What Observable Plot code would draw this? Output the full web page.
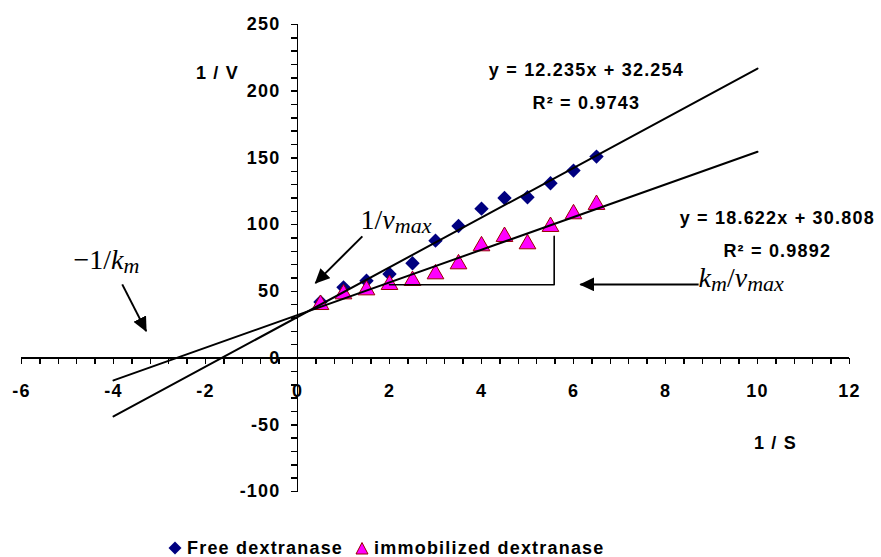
<!DOCTYPE html>
<html><head><meta charset="utf-8">
<script src="https://cdn.jsdelivr.net/npm/d3@7"></script>
<script src="https://cdn.jsdelivr.net/npm/@observablehq/plot@0.6"></script>
<style>
body{margin:0;background:#fff;}
#wrap{position:relative;width:881px;height:557px;overflow:hidden;}
#legend{position:absolute;left:168px;top:538px;font:bold 18px "Liberation Sans",Arial,sans-serif;letter-spacing:1.2px;line-height:20px;display:flex;align-items:center;white-space:nowrap;color:#000;}
#legend .item{display:flex;align-items:center;margin-right:12px;}
#legend svg{margin-right:5px;}
</style></head><body>
<div id="wrap"><div id="chart"></div><div id="legend"></div></div>
<script>
// ---- data ----
const invS = [0.5, 1, 1.5, 2, 2.5, 3, 3.5, 4, 4.5, 5, 5.5, 6, 6.5];
const freeInvV = [42, 53, 58, 63, 71, 88, 99, 112, 120, 120.5, 131, 140.5, 151];
const immInvV = [40, 48, 51, 55, 58, 63, 70.5, 84, 91, 85.5, 98.5, 108, 115];
const fitX = [-4, 10];
const freeFitY = [-43.7, 217.0];
const immFitY = [-16.7, 154.6];
const seriesNames = ["Free dextranase", "immobilized dextranase"];
const seriesColors = ["#000080", "#FF00FF"];
const xMajorTicks = [-6, -4, -2, 0, 2, 4, 6, 8, 10, 12];
const yMajorTicks = [-100, -50, 0, 50, 100, 150, 200, 250];
const xMinorTicks = d3.range(0, 46).map(i => -6 + i * 0.4);
const yMinorTicks = d3.range(0, 36).map(i => -100 + i * 10);
const eqFree = "y = 12.235x + 32.254\nR² = 0.9743";
const eqImm = "y = 18.622x + 30.808\nR² = 0.9892";
const axisTitleY = "1 / V";
const axisTitleX = "1 / S";

// annotations: rich-text segments (n normal, i italic, s italic subscript)
const annotations = [
  {key: "ann1", x: 1.37, y: 97, segs: [["1/", "n"], ["v", "i"], ["max", "s"]]},
  {key: "ann2", x: -4.87, y: 67, segs: [["\u22121/", "n"], ["k", "i"], ["m", "s"]]},
  {key: "ann3", x: 8.72, y: 53, segs: [["k", "i"], ["m", "s"], ["/", "n"], ["v", "i"], ["max", "s"]]}
];
const arrows = [
  {x1: 1.41, y1: 91.2, x2: 0.39, y2: 56.2},
  {x1: -3.81, y1: 55.2, x2: -3.29, y2: 20.2},
  {x1: 8.72, y1: 55.2, x2: 6.15, y2: 55.2}
];
const bracketX = [5.58, 5.58, 2.0];
const bracketY = [91.2, 55, 55];

// ---- layout ----
const W = 881, H = 515, mL = 21, mR = 32, mT = 24, mB = 24;
const xDomain = [-6, 12], yDomain = [-100, 250];
const pxPerX = (W - mL - mR) / (xDomain[1] - xDomain[0]);
const pxPerY = (H - mT - mB) / (yDomain[1] - yDomain[0]);
const x0px = mL + (0 - xDomain[0]) * pxPerX;
const y0px = mT + (yDomain[1] - 0) * pxPerY;
const dyAxis = y0px - (H - mB);
const dxAxis = x0px - mL;
const xTickLen = 6 / pxPerY;   // 6 px downward, in y units
const yTickLen = 7 / pxPerX;   // 7 px leftward, in x units

const freeData = invS.map((s, i) => ({x: s, y: freeInvV[i]}));
const immData = invS.map((s, i) => ({x: s, y: immInvV[i]}));
const freeFit = fitX.map((x, i) => ({x, y: freeFitY[i]}));
const immFit = fitX.map((x, i) => ({x, y: immFitY[i]}));
const bracket = bracketX.map((x, i) => ({x, y: bracketY[i]}));
const xTickData = xMinorTicks.map(v => ({v}));
const yTickData = yMinorTicks.map(v => ({v}));

const sans = "'Liberation Sans', Arial, sans-serif";
const fmt = d => String(d);

const chart = Plot.plot({
  width: W, height: H,
  marginLeft: mL, marginRight: mR, marginTop: mT, marginBottom: mB,
  x: {domain: xDomain, label: null},
  y: {domain: yDomain, label: null},
  style: {fontFamily: sans, fontSize: "18px", fontWeight: "bold", color: "#000", background: "#fff", overflow: "visible"},
  marks: [
    Plot.ruleY([0], {stroke: "#000", strokeWidth: 1.5, shapeRendering: "crispEdges"}),
    Plot.ruleX([0], {stroke: "#000", strokeWidth: 1.5, shapeRendering: "crispEdges"}),
    Plot.link(xTickData, {x1: d => d.v, x2: d => d.v, y1: d => 0, y2: d => -xTickLen, stroke: "#000", strokeWidth: 1.5, shapeRendering: "crispEdges"}),
    Plot.link(yTickData, {x1: d => -yTickLen, x2: d => 0, y1: d => d.v, y2: d => d.v, stroke: "#000", strokeWidth: 1.5, shapeRendering: "crispEdges"}),
    Plot.axisX(xMajorTicks, {anchor: "bottom", tickSize: 0, tickPadding: 26, tickFormat: fmt, label: null, dy: dyAxis, fontWeight: "bold", fontSize: 18, fill: "#000"}),
    Plot.axisY(yMajorTicks, {anchor: "left", tickSize: 0, tickPadding: 17, tickFormat: fmt, label: null, dx: dxAxis, fontWeight: "bold", fontSize: 18, fill: "#000"}),
    Plot.dot(freeData, {x: "x", y: "y", symbol: "diamond2", r: 6.5, fill: seriesColors[0], stroke: "none"}),
    Plot.dot(immData, {x: "x", y: "y", symbol: "triangle", r: 6.2, fill: seriesColors[1], stroke: "#990000", strokeWidth: 1}),
    Plot.line(freeFit, {x: "x", y: "y", stroke: "#000", strokeWidth: 2}),
    Plot.line(immFit, {x: "x", y: "y", stroke: "#000", strokeWidth: 2}),
    Plot.line(bracket, {x: "x", y: "y", stroke: "#000", strokeWidth: 1.6}),
    Plot.link(arrows, {x1: "x1", y1: "y1", x2: "x2", y2: "y2", stroke: "#000", strokeWidth: 2, markerEnd: "arrow"}),
    Plot.text([eqFree], {x: 6.28, y: 207, text: d => d, fontSize: 18, lineHeight: 1.83, fill: "#000", textAnchor: "middle"}),
    Plot.text([eqImm], {x: 10.43, y: 95.7, text: d => d, fontSize: 18, lineHeight: 1.83, fill: "#000", textAnchor: "middle"}),
    Plot.text([axisTitleY], {x: -1.74, y: 213.5, text: d => d, fontSize: 18, fill: "#000"}),
    Plot.text([axisTitleX], {x: 10.39, y: -63.5, text: d => d, fontSize: 18, fill: "#000"}),
    Plot.text(annotations, {x: "x", y: "y", text: "key", textAnchor: "start", lineAnchor: "bottom", fontFamily: "'Liberation Serif', 'Times New Roman', serif", fontSize: 28, fill: "#000"})
  ]
});
document.getElementById("chart").appendChild(chart);

// bold, slightly spaced sans texts (stretched look of the original)
chart.querySelectorAll("text").forEach(t => {
  t.setAttribute("letter-spacing", "1.2");
  t.style.fontWeight = "bold";
});

// rich text for annotations
const ns = "http://www.w3.org/2000/svg";
const annByKey = Object.fromEntries(annotations.map(a => [a.key, a]));
chart.querySelectorAll("text").forEach(t => {
  const a = annByKey[t.textContent.trim()];
  if (!a) return;
  t.setAttribute("letter-spacing", "0");
  t.style.fontWeight = "normal";
  t.style.fontFamily = "'Liberation Serif', 'Times New Roman', serif";
  t.textContent = "";
  let shift = 0;
  for (const [s, kind] of a.segs) {
    const ts = document.createElementNS(ns, "tspan");
    ts.textContent = s;
    const target = kind === "s" ? 4 : 0;
    if (target !== shift) { ts.setAttribute("dy", target - shift); shift = target; }
    if (kind !== "n") ts.setAttribute("font-style", "italic");
    if (kind === "s") ts.setAttribute("font-size", "22");
    t.appendChild(ts);
  }
});

// filled arrowheads (restyle Plot's arrow markers)
chart.querySelectorAll("marker").forEach(m => {
  m.setAttribute("viewBox", "0 0 15 14");
  m.setAttribute("refX", "14");
  m.setAttribute("refY", "7");
  m.setAttribute("markerWidth", "15");
  m.setAttribute("markerHeight", "14");
  m.setAttribute("markerUnits", "userSpaceOnUse");
  m.setAttribute("orient", "auto");
  m.innerHTML = "";
  const p = document.createElementNS(ns, "path");
  p.setAttribute("d", "M0,0L15,7L0,14Z");
  p.setAttribute("fill", "#000");
  p.setAttribute("stroke", "none");
  m.appendChild(p);
});

// legend
const legend = document.getElementById("legend");
const symbols = [
  '<svg width="14" height="14"><path d="M7,0.5L13.5,7L7,13.5L0.5,7Z" fill="' + seriesColors[0] + '"/></svg>',
  '<svg width="14" height="14"><path d="M7,1.5L13,13L1,13Z" fill="' + seriesColors[1] + '" stroke="#990000" stroke-width="1"/></svg>'
];
seriesNames.forEach((name, i) => {
  const item = document.createElement("span");
  item.className = "item";
  item.innerHTML = symbols[i] + "<span>" + name + "</span>";
  legend.appendChild(item);
});
</script>
</body></html>
